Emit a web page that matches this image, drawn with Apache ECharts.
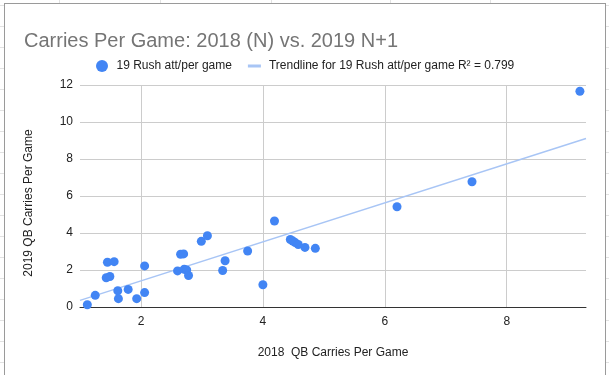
<!DOCTYPE html>
<html>
<head>
<meta charset="utf-8">
<script src="https://cdn.jsdelivr.net/npm/echarts@6/dist/echarts.min.js"></script>
<style>
  html, body { margin: 0; padding: 0; width: 609px; height: 375px; overflow: hidden; }
  body {
    position: relative;
    background-color: #fff;
    background-image: repeating-linear-gradient(to bottom, transparent 0px, transparent 5px, #e2e2e2 5px, #e2e2e2 6px, transparent 6px, transparent 21px);
  }
  .vline { position: absolute; top: 0; width: 1px; height: 4px; background: #e2e2e2; }
  #card { position: absolute; left: 4px; top: 3px; width: 600px; height: 390px; border: 1px solid #9a9a9a; background: #fff; }
  #chart { position: absolute; left: 0; top: 0; width: 609px; height: 375px; }
</style>
</head>
<body>
<div class="vline" style="left:59px"></div>
<div class="vline" style="left:160px"></div>
<div class="vline" style="left:271px"></div>
<div class="vline" style="left:390px"></div>
<div class="vline" style="left:490px"></div>
<div id="card"></div>
<div id="chart"></div>
<script>
// 2018 rush attempts per game (x) and 2019 rush attempts per game (y)
const carries2018 = [1.12, 1.25, 1.43, 1.49, 1.45, 1.56, 1.62, 1.63, 1.79, 1.93, 2.06, 2.06,
  2.60, 2.65, 2.70, 2.71, 2.75, 2.78, 2.99, 3.09, 3.34, 3.38, 3.75, 4.00, 4.19,
  4.45, 4.49, 4.53, 4.58, 4.69, 4.86, 6.20, 7.43, 9.20];
const carries2019 = [0.12, 0.63, 1.58, 1.65, 2.42, 2.45, 0.88, 0.45, 0.95, 0.45, 0.78, 2.22,
  1.95, 2.85, 2.87, 2.04, 2.00, 1.70, 3.55, 3.85, 1.97, 2.50, 3.03, 1.20, 4.65,
  3.65, 3.57, 3.48, 3.38, 3.22, 3.17, 5.42, 6.77, 11.66];
const xTicks = [2, 4, 6, 8];
const yTicks = [0, 2, 4, 6, 8, 10, 12];
const xRange = [1.0, 9.3];

const seriesName = '19 Rush att/per game';
const trendName = 'Trendline for 19 Rush att/per game R\u00b2 = 0.799';

// least squares trendline
const n = carries2018.length;
let sx = 0, sy = 0, sxx = 0, sxy = 0;
for (let i = 0; i < n; i++) {
  sx += carries2018[i]; sy += carries2019[i];
  sxx += carries2018[i] * carries2018[i]; sxy += carries2018[i] * carries2019[i];
}
const slope = (n * sxy - sx * sy) / (n * sxx - sx * sx);
const intercept = (sy - slope * sx) / n;
const trendData = xRange.map(x => [x, intercept + slope * x]);
const points = carries2018.map((x, i) => [x, carries2019[i]]);

const font = 'Liberation Sans, Arial, sans-serif';
const chart = echarts.init(document.getElementById('chart'));
chart.setOption({
  animation: false,
  textStyle: { fontFamily: font },
  title: {
    text: 'Carries Per Game: 2018 (N) vs. 2019 N+1',
    left: 19, top: 26,
    textStyle: { fontFamily: font, fontSize: 20, fontWeight: 'normal', color: '#757575' }
  },
  legend: {
    left: 91, top: 55,
    itemWidth: 13, itemHeight: 12, itemGap: 16,
    textStyle: { fontFamily: font, fontSize: 12, color: '#222', padding: [0, 0, 0, 3] },
    data: [
      { name: seriesName, icon: 'circle' },
      { name: trendName, icon: 'path://M0,0 L0.01,0 M0,4.5 L13,4.5 L13,7.5 L0,7.5 Z M0,12 L0.01,12', itemStyle: { color: '#a8c5f5' } }
    ]
  },
  grid: { left: 80, right: 23, top: 85, bottom: 68 },
  xAxis: {
    type: 'value',
    min: xRange[0], max: xRange[1],
    name: '2018  QB Carries Per Game',
    nameLocation: 'middle', nameGap: 40,
    nameTextStyle: { fontFamily: font, fontSize: 12, color: '#222' },
    axisLine: { show: true, lineStyle: { color: '#333', width: 1 } },
    axisTick: { show: false, customValues: xTicks },
    axisLabel: { customValues: xTicks, fontFamily: font, fontSize: 12, color: '#222', margin: 9 },
    splitLine: { show: true, lineStyle: { color: '#cccccc', width: 1 } }
  },
  yAxis: {
    type: 'value',
    min: yTicks[0], max: yTicks[yTicks.length - 1], interval: 2,
    name: '2019 QB Carries Per Game',
    nameLocation: 'middle', nameGap: 45,
    nameTextStyle: { fontFamily: font, fontSize: 12, color: '#222', padding: [0, 14, 0, 0] },
    axisLine: { show: false },
    axisTick: { show: false },
    axisLabel: { fontFamily: font, fontSize: 12, color: '#222', margin: 7 },
    splitLine: { show: true, lineStyle: { color: '#cccccc', width: 1 } }
  },
  series: [
    {
      name: trendName, type: 'line', data: trendData,
      symbol: 'none', z: 1,
      lineStyle: { color: '#a8c5f5', width: 1.5 },
      itemStyle: { color: '#a8c5f5' }
    },
    {
      name: seriesName, type: 'scatter', data: points,
      symbol: 'circle', symbolSize: 9, z: 2,
      itemStyle: { color: '#4285f4', opacity: 1 }
    }
  ]
});
</script>
</body>
</html>
